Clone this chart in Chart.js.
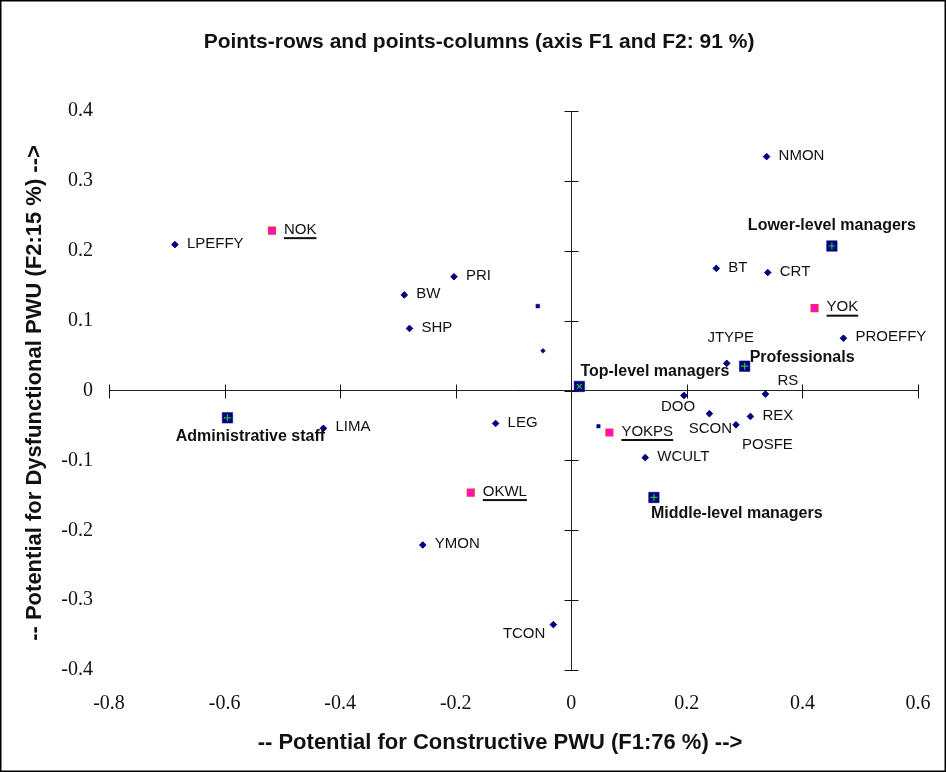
<!DOCTYPE html>
<html>
<head>
<meta charset="utf-8">
<script src="https://cdn.jsdelivr.net/npm/chart.js@4.4.1/dist/chart.umd.min.js"></script>
<style>
  html, body { margin: 0; padding: 0; background: #fff; }
</style>
</head>
<body>
<canvas id="myChart" width="946" height="772"></canvas>
<script>
// variables (blue diamonds)
let varNames = ['LPEFFY', 'PRI', 'BW', 'SHP', 'LEG', 'LIMA', 'YMON', 'TCON', 'NMON', 'BT', 'CRT',
                'PROEFFY', 'JTYPE', 'RS', 'DOO', 'SCON', 'REX', 'POSFE', 'WCULT'];
let varF1 = [-0.686, -0.203, -0.289, -0.280, -0.131, -0.429, -0.257, -0.031, 0.338, 0.251, 0.340,
             0.471, 0.269, 0.336, 0.195, 0.239, 0.310, 0.285, 0.128];
let varF2 = [0.209, 0.163, 0.137, 0.089, -0.047, -0.054, -0.221, -0.335, 0.335, 0.175, 0.169,
             0.075, 0.039, -0.005, -0.007, -0.033, -0.037, -0.049, -0.096];

// modalities (pink squares, underlined)
let modNames = ['NOK', 'YOK', 'YOKPS', 'OKWL'];
let modF1 = [-0.518, 0.421, 0.066, -0.174];
let modF2 = [0.229, 0.118, -0.060, -0.146];

// staff groups (navy squares)
let groupNames = ['Lower-level managers', 'Professionals', 'Top-level managers', 'Middle-level managers', 'Administrative staff'];
let groupF1 = [0.451, 0.300, 0.014, 0.143, -0.595];
let groupF2 = [0.207, 0.035, 0.006, -0.153, -0.039];

// unlabeled points
let extraF1 = [-0.058, 0.047, -0.049];
let extraF2 = [0.121, -0.051, 0.057];

let xTicks = [-0.8, -0.6, -0.4, -0.2, 0, 0.2, 0.4, 0.6];
let yTicks = [-0.4, -0.3, -0.2, -0.1, 0, 0.1, 0.2, 0.3, 0.4];

// label placement: [align, dx, dy]
let labelPos = {
  'Lower-level managers': ['center', 0, -20],
  'JTYPE': ['center', 4, -25],
  'Professionals': ['left', 5, -9],
  'Top-level managers': ['left', 1, -15],
  'RS': ['left', 12, -13],
  'DOO': ['center', -6, 11],
  'SCON': ['center', 1, 15],
  'POSFE': ['left', 6, 20],
  'Middle-level managers': ['left', -3, 16],
  'TCON': ['right', -8, 9],
  'Administrative staff': ['center', 23, 19]
};

function pts(xs, ys) {
  return xs.map((x, i) => ({ x: x, y: ys[i] }));
}

const framePlugin = {
  id: 'frame',
  beforeDraw(chart) {
    const ctx = chart.ctx;
    ctx.save();
    ctx.fillStyle = '#fff';
    ctx.fillRect(0, 0, chart.width, chart.height);
    ctx.restore();
  },
  beforeDatasetsDraw(chart) {
    // tick marks crossing the axis lines
    const ctx = chart.ctx, xs = chart.scales.x, ys = chart.scales.y;
    const x0 = Math.round(xs.getPixelForValue(0)) + 0.5;
    const y0 = Math.round(ys.getPixelForValue(0)) + 0.5;
    ctx.save();
    ctx.strokeStyle = '#111';
    ctx.lineWidth = 1;
    ctx.beginPath();
    xTicks.forEach(v => {
      const px = Math.round(xs.getPixelForValue(v)) + 0.5;
      ctx.moveTo(px, y0 - 7); ctx.lineTo(px, y0 + 7);
    });
    yTicks.forEach(v => {
      const py = Math.round(ys.getPixelForValue(v)) + 0.5;
      ctx.moveTo(x0 - 7, py); ctx.lineTo(x0 + 7, py);
    });
    ctx.stroke();
    ctx.restore();
  },
  afterDatasetsDraw(chart) {
    const ctx = chart.ctx, xs = chart.scales.x, ys = chart.scales.y;
    ctx.save();
    ctx.fillStyle = '#111';
    ctx.textBaseline = 'middle';

    function put(name, x, y, bold, underline) {
      const p = labelPos[name] || ['left', 12, -1];
      const px = xs.getPixelForValue(x) + p[1];
      const py = ys.getPixelForValue(y) + p[2];
      ctx.font = bold ? 'bold 16px "Liberation Sans", Arial, sans-serif' : '15px "Liberation Sans", Arial, sans-serif';
      ctx.textAlign = p[0];
      ctx.fillText(name, px, py);
      if (underline) {
        const w = ctx.measureText(name).width;
        let left = px;
        if (p[0] === 'center') left = px - w / 2;
        if (p[0] === 'right') left = px - w;
        ctx.fillRect(left, py + 7.5, w, 2);
      }
    }
    varNames.forEach((n, i) => put(n, varF1[i], varF2[i], false, false));
    modNames.forEach((n, i) => put(n, modF1[i], modF2[i], false, true));
    groupNames.forEach((n, i) => put(n, groupF1[i], groupF2[i], true, false));

    // axis titles
    ctx.font = 'bold 22px "Liberation Sans", Arial, sans-serif';
    ctx.textAlign = 'center';
    ctx.fillText('-- Potential for Constructive PWU (F1:76 %) -->', 500, 743);
    ctx.translate(35, 393);
    ctx.rotate(-Math.PI / 2);
    ctx.fillText('-- Potential for Dysfunctional PWU (F2:15 %) -->', 0, 0);
    ctx.restore();

    // outer frame
    ctx.save();
    ctx.strokeStyle = '#000';
    ctx.lineWidth = 1.5;
    ctx.strokeRect(0.75, 0.75, chart.width - 1.5, chart.height - 1.5);
    ctx.restore();
  }
};

let myChart = document.getElementById('myChart').getContext('2d');

// datasets listed top-most first (Chart.js draws the last one first)
let chart = new Chart(myChart, {
  type: 'scatter',
  data: {
    datasets: [
      {
        data: pts(groupF1, groupF2),
        pointStyle: ['cross', 'cross', 'crossRot', 'cross', 'cross'],
        pointRadius: 3.5,
        borderColor: '#2fbf2f',
        borderWidth: 1.2
      },
      {
        data: pts(groupF1, groupF2),
        pointStyle: 'rect',
        pointRadius: 7.4,
        backgroundColor: '#000080',
        borderColor: '#000080',
        borderWidth: 0.5
      },
      {
        data: pts(modF1, modF2),
        pointStyle: 'rect',
        pointRadius: 4.6,
        backgroundColor: '#ff00ff',
        borderColor: '#ff2a4a',
        borderWidth: 1.6
      },
      {
        data: pts(varF1, varF2),
        pointStyle: 'rectRot',
        pointRadius: 3.3,
        backgroundColor: '#000080',
        borderColor: '#000080',
        borderWidth: 1
      },
      {
        data: pts(extraF1, extraF2),
        pointStyle: ['rect', 'rect', 'rectRot'],
        pointRadius: [2.6, 2.4, 2.4],
        backgroundColor: '#000080',
        borderColor: '#000080',
        borderWidth: 0.5
      }
    ]
  },
  options: {
    responsive: false,
    animation: false,
    layout: { padding: { left: 40, right: 28, top: 0, bottom: 0 } },
    plugins: {
      legend: { display: false },
      tooltip: { enabled: false },
      title: {
        display: true,
        text: 'Points-rows and points-columns (axis F1 and F2: 91 %)',
        color: '#111',
        font: { family: '"Liberation Sans", Arial, sans-serif', size: 21, weight: 'bold' },
        padding: { top: 30, bottom: 56 }
      }
    },
    scales: {
      x: {
        type: 'linear',
        min: -0.8,
        max: 0.6,
        afterBuildTicks(s) { s.ticks = xTicks.map(v => ({ value: v })); },
        afterFit(s) { s.height = 102; s.paddingLeft = 0; s.paddingRight = 0; },
        border: { display: false },
        grid: {
          drawTicks: false,
          color: c => (c.tick && c.tick.value === 0 ? '#222' : 'rgba(0,0,0,0)'),
          lineWidth: 1
        },
        ticks: {
          padding: 22,
          color: '#111',
          font: { family: '"Liberation Serif", "Times New Roman", serif', size: 20 },
          callback: v => String(Math.round(v * 10) / 10)
        }
      },
      y: {
        type: 'linear',
        min: -0.4,
        max: 0.4,
        afterBuildTicks(s) { s.ticks = yTicks.map(v => ({ value: v })); },
        afterFit(s) { s.width = 69; },
        border: { display: false },
        grid: {
          drawTicks: false,
          color: c => (c.tick && c.tick.value === 0 ? '#222' : 'rgba(0,0,0,0)'),
          lineWidth: 1
        },
        ticks: {
          padding: 16,
          color: '#111',
          font: { family: '"Liberation Serif", "Times New Roman", serif', size: 20 },
          callback: v => String(Math.round(v * 10) / 10)
        }
      }
    }
  },
  plugins: [framePlugin]
});
</script>
</body>
</html>
